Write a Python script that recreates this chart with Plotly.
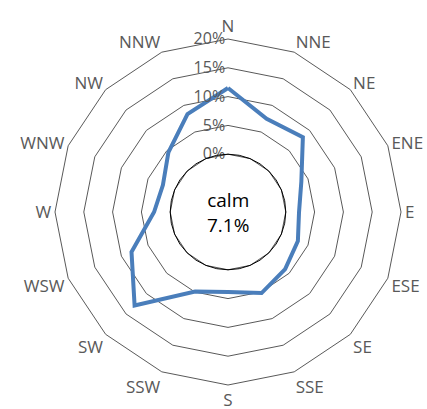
import plotly.graph_objects as go

directions = ["N", "NNE", "NE", "ENE", "E", "ESE", "SE", "SSE",
              "S", "SSW", "SW", "WSW", "W", "WNW", "NW", "NNW"]
frequency = [11.5, 7.5, 8.35, 3.75, 2.3, 3.1, 4.0, 5.2,
             3.85, 4.9, 12.9, 8.1, 2.8, 2.2, 4.6, 8.35]
radial_ticks = [0, 5, 10, 15, 20]
radial_tick_labels = ["0%", "5%", "10%", "15%", "20%"]
calm_label = "calm<br>7.1%"

grey = "#595959"
blue = "#4A7EBB"

fig = go.Figure()
fig.add_trace(go.Scatterpolar(
    r=frequency + frequency[:1],
    theta=directions + directions[:1],
    mode="lines",
    line=dict(color=blue, width=4),
    showlegend=False,
    hoverinfo="skip",
))

hole = 0.334
fig.update_layout(
    width=427, height=409,
    margin=dict(l=55, r=26, t=39, b=24),
    paper_bgcolor="white",
    plot_bgcolor="white",
    font=dict(family="Open Sans", color=grey),
    polar=dict(
        bgcolor="white",
        hole=hole,
        gridshape="linear",
        domain=dict(x=[0, 1], y=[0, 1]),
        radialaxis=dict(
            range=[0, 20],
            tickvals=radial_ticks,
            ticktext=radial_tick_labels,
            angle=90,
            tickangle=90,
            side="counterclockwise",
            showline=False,
            showgrid=True,
            gridcolor=grey,
            gridwidth=1,
            ticks="",
            tickfont=dict(size=16, color=grey, family="Open Sans"),
        ),
        angularaxis=dict(
            categoryorder="array",
            categoryarray=directions,
            rotation=90,
            direction="clockwise",
            showgrid=False,
            showline=True,
            linecolor=grey,
            linewidth=1,
            ticks="",
            tickfont=dict(size=17, color=grey, family="Open Sans"),
        ),
    ),
)

# hole outline (circle at the 0% ring)
cx, cy = 0.5, 0.5
rad_x = 0.5 * hole
rad_y = 0.5 * hole
fig.add_shape(type="circle", xref="paper", yref="paper",
              x0=cx - rad_x, x1=cx + rad_x, y0=cy - rad_y, y1=cy + rad_y,
              line=dict(color="black", width=1), fillcolor="rgba(0,0,0,0)")

fig.add_annotation(text=calm_label, x=0.5, y=0.5, xref="paper", yref="paper",
                   showarrow=False, align="center",
                   font=dict(size=19, color="black", family="Open Sans"))

fig.write_html("out.html", config={"displayModeBar": False},
               post_script="document.body.style.margin='0px';")
